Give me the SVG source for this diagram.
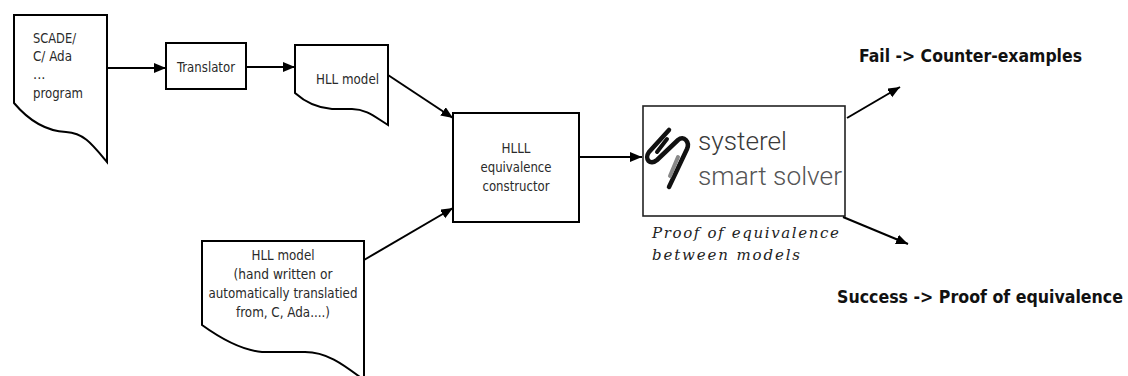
<svg xmlns="http://www.w3.org/2000/svg" width="1128" height="376" viewBox="0 0 1128 376">
<style>
.shape{fill:#fff;stroke:#000;stroke-width:2}
.lbl{font-family:"DejaVu Sans Condensed","DejaVu Sans",sans-serif;font-stretch:condensed;font-size:14.5px;fill:#2a2a2a}
.c{text-anchor:middle}
.edge{fill:none;stroke:#000;stroke-width:2}
.out{font-family:"DejaVu Sans Condensed","DejaVu Sans",sans-serif;font-stretch:condensed;font-weight:bold;font-size:17px;fill:#111}
.cap{font-family:"DejaVu Serif",serif;font-style:italic;font-size:15px;fill:#222}
.brand{font-family:Roboto,Lato,sans-serif;font-weight:300;font-size:25px}
.ico{fill:none;stroke-linecap:round;stroke-linejoin:round}
</style>
<defs>
<marker id="ah" markerUnits="userSpaceOnUse" markerWidth="14" markerHeight="12" refX="12" refY="5" orient="auto">
<path d="M0,0 L12,5 L0,10 Z" fill="#000"/>
</marker>
</defs>
<rect width="1128" height="376" fill="#fff"/>

<g id="node-source">
<path class="shape" d="M14,15 H107 V162 C92,144 84,133 66,132 C46,131 30,122 14,103 Z"/>
<text class="lbl" x="33" y="43" textLength="43" lengthAdjust="spacingAndGlyphs">SCADE/</text>
<text class="lbl" x="33" y="61" textLength="39" lengthAdjust="spacingAndGlyphs">C/ Ada</text>
<text class="lbl" x="33" y="79">...</text>
<text class="lbl" x="33" y="98" textLength="50" lengthAdjust="spacingAndGlyphs">program</text>
</g>

<g id="node-translator">
<rect class="shape" x="166" y="43" width="80" height="46"/>
<text class="lbl c" x="206" y="72" textLength="58" lengthAdjust="spacingAndGlyphs">Translator</text>
</g>

<g id="node-hll">
<path class="shape" d="M295,45 H388 V125 C375,117 366,109 352,109 H332 C318,108 305,102 295,93 Z"/>
<text class="lbl c" x="347.5" y="84" textLength="63" lengthAdjust="spacingAndGlyphs">HLL model</text>
</g>

<g id="node-hll-hand">
<path class="shape" d="M202,241 H364 V380 C345,366 328,352 305,352 H262 C240,350 220,338 202,325 Z"/>
<text class="lbl c" x="283" y="260" textLength="63" lengthAdjust="spacingAndGlyphs">HLL model</text>
<text class="lbl c" x="283" y="279" textLength="99" lengthAdjust="spacingAndGlyphs">(hand written or</text>
<text class="lbl c" x="283" y="298" textLength="149" lengthAdjust="spacingAndGlyphs">automatically translatied</text>
<text class="lbl c" x="283" y="317" textLength="94" lengthAdjust="spacingAndGlyphs">from, C, Ada....)</text>
</g>

<g id="node-constructor">
<rect class="shape" x="453" y="113" width="126" height="109"/>
<text class="lbl c" x="516" y="153" textLength="29" lengthAdjust="spacingAndGlyphs">HLLL</text>
<text class="lbl c" x="516" y="172" textLength="71" lengthAdjust="spacingAndGlyphs">equivalence</text>
<text class="lbl c" x="516" y="191" textLength="67" lengthAdjust="spacingAndGlyphs">constructor</text>
</g>

<g id="node-solver">
<rect x="643" y="106" width="202" height="110" fill="#fff" stroke="#222" stroke-width="1.6"/>
<path class="ico" d="M669,130 L649,152 C644,159 650,166 657,160 L678,140 C684,135 690,142 687,149 L669,187" stroke="#111" stroke-width="4.5"/>
<path class="ico" d="M667,139 L657,152" stroke="#111" stroke-width="4"/>
<path class="ico" d="M678,157 L670,176" stroke="#888" stroke-width="4"/>
<text class="brand" x="698" y="150" fill="#3a3a3a" textLength="89" lengthAdjust="spacingAndGlyphs">systerel</text>
<text class="brand" x="698" y="185" fill="#555" textLength="144" lengthAdjust="spacingAndGlyphs">smart solver</text>
<text class="cap" x="652" y="238" textLength="187" lengthAdjust="spacing">Proof of equivalence</text>
<text class="cap" x="652" y="260" textLength="148" lengthAdjust="spacing">between models</text>
</g>

<g id="label-fail">
<text class="out" x="859" y="62" textLength="223" lengthAdjust="spacingAndGlyphs">Fail -&gt; Counter-examples</text>
</g>
<g id="label-success">
<text class="out" x="837" y="303" textLength="286" lengthAdjust="spacingAndGlyphs">Success -&gt; Proof of equivalence</text>
</g>

<g id="connectors">
<line class="edge" x1="107" y1="68" x2="166" y2="68" marker-end="url(#ah)"/>
<line class="edge" x1="246" y1="67" x2="295" y2="67" marker-end="url(#ah)"/>
<line class="edge" x1="388" y1="75" x2="453" y2="118" marker-end="url(#ah)"/>
<line class="edge" x1="364" y1="260" x2="453" y2="208" marker-end="url(#ah)"/>
<line class="edge" x1="579" y1="157" x2="642" y2="157" marker-end="url(#ah)"/>
<line class="edge" x1="847" y1="118" x2="900" y2="87" marker-end="url(#ah)"/>
<line class="edge" x1="843" y1="217" x2="908" y2="244" marker-end="url(#ah)"/>
</g>
</svg>
